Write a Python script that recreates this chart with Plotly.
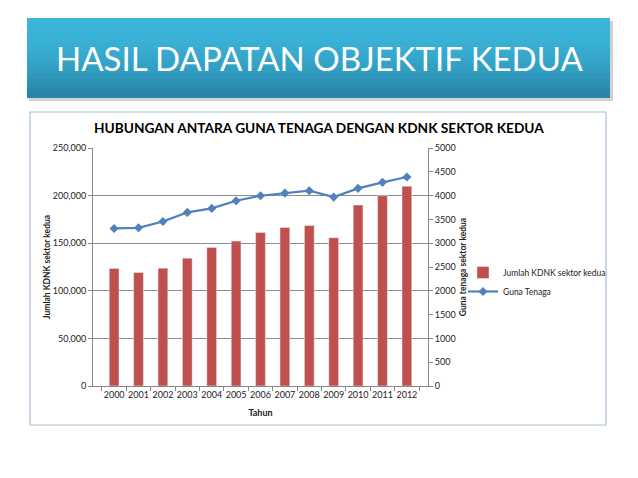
import plotly.graph_objects as go

# page has an 8px body margin, so the figure is a bit smaller and offset
OFF = 8
W, H = 638 - OFF, 478 - OFF

years = ["2000", "2001", "2002", "2003", "2004", "2005", "2006",
         "2007", "2008", "2009", "2010", "2011", "2012"]
kdnk = [123500, 119200, 123800, 134300, 145500, 152200, 161300,
        166500, 168600, 155700, 190000, 199900, 209700]
guna_tenaga = [3310, 3324, 3457, 3647, 3731, 3892, 3997,
               4053, 4103, 3969, 4152, 4278, 4390]

left_ticks = [0, 50000, 100000, 150000, 200000, 250000]
right_ticks = [0, 500, 1000, 1500, 2000, 2500, 3000, 3500, 4000, 4500, 5000]

FONT = "Lato"
RED = "#C0504D"
BLUE = "#4F81BD"


def px(x):
    return (x - OFF) / W


def py(y):
    return 1 - (y - OFF) / H


fig = go.Figure()

fig.add_trace(
    go.Bar(
        x=years,
        y=kdnk,
        name="Jumlah KDNK sektor kedua",
        marker_color=RED,
        yaxis="y",
    )
)
fig.add_trace(
    go.Scatter(
        x=years,
        y=guna_tenaga,
        name="Guna Tenaga",
        mode="lines+markers",
        line=dict(color=BLUE, width=2.2),
        marker=dict(symbol="diamond", size=7, color=BLUE),
        yaxis="y2",
    )
)

# banner: stacked bands to fake the gradient
shapes = [
    dict(type="rect", xref="paper", yref="paper",
         x0=px(29), x1=px(613), y0=py(21), y1=py(101),
         fillcolor="rgba(0,0,0,0.18)", line_width=0, layer="below"),
]
top, bottom = 18, 98
n = 16
c0 = (60, 181, 219)
c1 = (38, 132, 166)
for i in range(n):
    t = i / (n - 1)
    c = tuple(int(a + (b - a) * t ** 1.8) for a, b in zip(c0, c1))
    shapes.append(
        dict(type="rect", xref="paper", yref="paper",
             x0=px(27), x1=px(610),
             y0=py(min(bottom, top + (bottom - top) * (i + 1) / n + 1)),
             y1=py(top + (bottom - top) * i / n),
             fillcolor="rgb(%d,%d,%d)" % c, line_width=0, layer="below")
    )
# chart frame
shapes.append(
    dict(type="rect", xref="paper", yref="paper",
         x0=px(30), x1=px(606), y0=py(425), y1=py(112),
         fillcolor="rgba(0,0,0,0)", line=dict(color="#A9BCD6", width=1.2),
         layer="below")
)

annotations = [
    dict(text="HASIL DAPATAN OBJEKTIF KEDUA", xref="paper", yref="paper",
         x=px(319), y=py(58), xanchor="center", yanchor="middle",
         showarrow=False,
         font=dict(family=FONT, size=33, color="white")),
    dict(text="<b>HUBUNGAN ANTARA GUNA TENAGA DENGAN KDNK SEKTOR KEDUA</b>",
         xref="paper", yref="paper", x=px(319), y=py(128),
         xanchor="center", yanchor="middle", showarrow=False,
         font=dict(family=FONT, size=13.7, color="black")),
]

fig.update_layout(
    width=W,
    height=H,
    margin=dict(l=0, r=0, t=0, b=0, autoexpand=False),
    paper_bgcolor="white",
    plot_bgcolor="white",
    font=dict(family=FONT, size=9, color="#222"),
    bargap=0.6,
    shapes=shapes,
    annotations=annotations,
    xaxis=dict(
        domain=[px(93), px(428)],
        type="category",
        automargin=False,
        tickangle=0,
        showline=True, linecolor="#888", linewidth=1,
        ticks="outside", ticklen=4, tickcolor="#888",
        tickson="boundaries",
        tickfont=dict(size=9),
        title=dict(text="<b>Tahun</b>", font=dict(size=9), standoff=10),
    ),
    yaxis=dict(
        domain=[py(386), py(148)],
        range=[0, 250000],
        automargin=False,
        tickvals=left_ticks,
        tickformat=",",
        showgrid=True, gridcolor="#8C8C8C", gridwidth=1,
        showline=True, linecolor="#888", linewidth=1,
        ticks="outside", ticklen=4, tickcolor="#888",
        zeroline=False,
        tickfont=dict(size=9),
        title=dict(text="<b>Jumlah KDNK sektor kedua</b>", font=dict(size=8.5),
                   standoff=0),
    ),
    yaxis2=dict(
        overlaying="y",
        side="right",
        range=[0, 5000],
        automargin=False,
        tickvals=right_ticks,
        showgrid=False,
        showline=True, linecolor="#888", linewidth=1,
        ticks="outside", ticklen=4, tickcolor="#888",
        zeroline=False,
        tickfont=dict(size=9),
        title=dict(text="<b>Guna tenaga sektor kedua</b>", font=dict(size=8.5),
                   standoff=5),
    ),
    legend=dict(
        x=px(463), y=py(258), xanchor="left", yanchor="top",
        font=dict(size=8.5), bgcolor="rgba(0,0,0,0)",
        tracegroupgap=2, itemwidth=30,
    ),
)

fig.write_html("out.html")
